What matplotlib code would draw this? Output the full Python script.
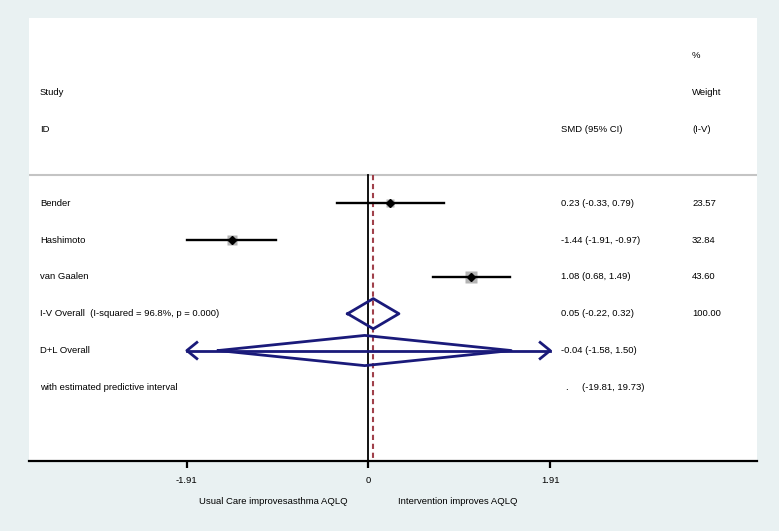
import matplotlib
matplotlib.use("Agg")
import matplotlib.pyplot as plt

plt.rcParams['font.family'] = ['Liberation Sans', 'DejaVu Sans']

studies = ["Bender", "Hashimoto", "van Gaalen"]
smd = [0.23, -1.44, 1.08]
lo = [-0.33, -1.91, 0.68]
hi = [0.79, -0.97, 1.49]
weight = [23.57, 32.84, 43.60]

iv_est, iv_lo, iv_hi = 0.05, -0.22, 0.32
iv_weight = 100.00
dl_est, dl_lo, dl_hi = -0.04, -1.58, 1.50
pred_lo, pred_hi = -19.81, 19.73
i2, pval = 96.8, 0.000
ticks = [-1.91, 0, 1.91]

navy = "#1a1a7a"
fs = 6.8

fig = plt.figure(figsize=(7.79, 5.31), dpi=100, facecolor="#e9f1f2")
W, H = 779, 531
ax = fig.add_axes([29 / W, (H - 461) / H, (757 - 29) / W, (461 - 18) / H])
ax.set_facecolor("white")

# pixel -> data: x = (px - 368.5) / 95.1
def px(p):
    return (p - 368.5) / 95.1

ax.set_xlim(px(29), px(757))
ax.set_ylim(8.0, -4.03)

col_lab = px(40)
col_est = px(561)
col_wt = px(692)

# headers
ax.text(col_wt, -3, "%", fontsize=fs, va="center")
ax.text(col_lab, -2, "Study", fontsize=fs, va="center")
ax.text(col_wt, -2, "Weight", fontsize=fs, va="center")
ax.text(col_lab, -1, "ID", fontsize=fs, va="center")
ax.text(col_est, -1, "SMD (95% CI)", fontsize=fs, va="center")
ax.text(col_wt, -1, "(I-V)", fontsize=fs, va="center")
ax.axhline(0.24, color="#c4c4c4", lw=1.5)

# reference lines
ax.plot([0, 0], [0.24, 8.0], color="black", lw=1.3, zorder=2)
ax.plot([iv_est, iv_est], [0.24, 8.0], color="#a0404a", lw=1.5, ls=(0, (2.5, 1.8)), zorder=2)

# studies
for i, name in enumerate(studies):
    y = i + 1
    ax.plot([lo[i], hi[i]], [y, y], color="black", lw=1.7, zorder=3)
    ax.plot(smd[i], y, marker="s", ms=1.25 * weight[i] ** 0.5, color="#b4b4b4", mec="none", zorder=2.5)
    ax.plot(smd[i], y, marker="D", ms=4, color="black", zorder=4)
    ax.text(col_lab, y, name, fontsize=fs, va="center")
    ax.text(col_est, y, f"{smd[i]:.2f} ({lo[i]:.2f}, {hi[i]:.2f})", fontsize=fs, va="center")
    ax.text(col_wt, y, f"{weight[i]:.2f}", fontsize=fs, va="center")

# I-V overall diamond
dh = 0.41
y = 4
ax.plot([iv_lo, iv_est, iv_hi, iv_est, iv_lo], [y, y - dh, y, y + dh, y], color=navy, lw=2.0, zorder=4)
ax.text(col_lab, y, f"I-V Overall  (I-squared = {i2:.1f}%, p = {pval:.3f})", fontsize=fs, va="center")
ax.text(col_est, y, f"{iv_est:.2f} ({iv_lo:.2f}, {iv_hi:.2f})", fontsize=fs, va="center")
ax.text(col_wt, y, f"{iv_weight:.2f}", fontsize=fs, va="center")

# D+L overall diamond with predictive interval (clipped at axis limits)
y = 5
ax.plot([dl_lo, dl_est, dl_hi, dl_est, dl_lo], [y, y - dh, y, y + dh, y], color=navy, lw=2.0, zorder=4)
left = max(pred_lo, ticks[0])
right = min(pred_hi, ticks[-1])
ax.plot([left, right], [y, y], color=navy, lw=2.0, zorder=4)
ah, av = 0.105, 0.22
ax.plot([left + ah, left, left + ah], [y - av, y, y + av], color=navy, lw=2.0, zorder=4)
ax.plot([right - ah, right, right - ah], [y - av, y, y + av], color=navy, lw=2.0, zorder=4)
ax.text(col_lab, y, "D+L Overall", fontsize=fs, va="center")
ax.text(col_est, y, f"{dl_est:.2f} ({dl_lo:.2f}, {dl_hi:.2f})", fontsize=fs, va="center")

y = 6
ax.text(col_lab, y, "with estimated predictive interval", fontsize=fs, va="center")
ax.text(px(565), y, ".", fontsize=fs, va="center")
ax.text(px(582), y, f"({pred_lo:.2f}, {pred_hi:.2f})", fontsize=fs, va="center")

# axis
for s in ["top", "left", "right"]:
    ax.spines[s].set_visible(False)
ax.spines["bottom"].set_linewidth(1.6)
ax.set_yticks([])
ax.set_xticks(ticks)
ax.set_xticklabels(["-1.91", "0", "1.91"], fontsize=fs)
ax.tick_params(axis="x", length=5, width=1.6, pad=6)

ax.text(px(348), 9.1, "Usual Care improvesasthma AQLQ", fontsize=fs, va="center", ha="right", clip_on=False)
ax.text(px(398), 9.1, "Intervention improves AQLQ", fontsize=fs, va="center", ha="left", clip_on=False)

fig.savefig("out.png", dpi=100, facecolor=fig.get_facecolor())
